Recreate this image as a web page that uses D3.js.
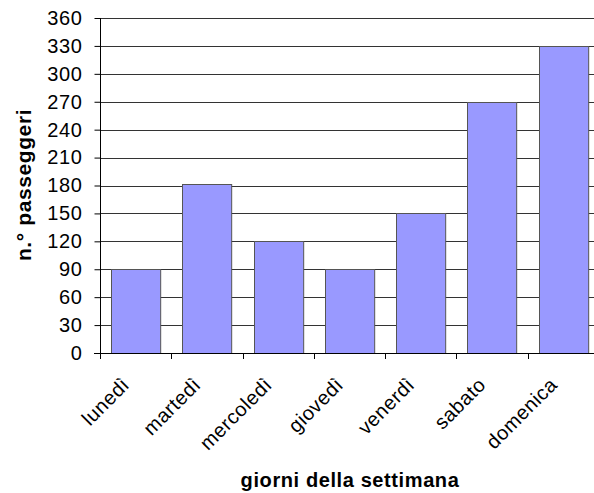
<!DOCTYPE html>
<html><head><meta charset="utf-8">
<script src="https://cdn.jsdelivr.net/npm/d3@7"></script>
<style>body{margin:0;background:#fff}svg{display:block}text{font-family:"Liberation Sans",Arial,sans-serif}</style>
</head><body>
<script>
const categories = ["lunedì","martedì","mercoledì","giovedì","venerdì","sabato","domenica"];
const values = [90, 182, 120, 90, 150, 270, 330];
const yTicks = [0,30,60,90,120,150,180,210,240,270,300,330,360];

const W = 594, H = 493;
const svg = d3.select("body").append("svg").attr("width", W).attr("height", H);
const x0 = 100, x1 = 599, yTop = 18, yBot = 353;
const x = d3.scaleBand().domain(categories).range([x0, x1]).paddingInner(0.31).paddingOuter(0.155);
const xc = d3.scaleBand().domain(categories).range([x0, x1]);
const y = d3.scaleLinear().domain([0, 360]).range([yBot, yTop]);

// gridlines
svg.append("g").selectAll("line").data(yTicks.filter(d => d > 0)).join("line")
  .attr("x1", x0).attr("x2", W).attr("y1", d => Math.round(y(d)) + 0.5).attr("y2", d => Math.round(y(d)) + 0.5)
  .attr("stroke", "#333").attr("stroke-width", 1);

// bars
svg.append("g").selectAll("rect").data(values).join("rect")
  .attr("x", (d, i) => Math.round(x(categories[i])) + 0.5)
  .attr("y", d => Math.round(y(d)) + 0.5)
  .attr("width", x.bandwidth())
  .attr("height", d => Math.round(yBot) - Math.round(y(d)))
  .attr("fill", "#9999FF").attr("stroke", "#555").attr("stroke-width", 1);

// y axis
const ya = svg.append("g").attr("transform", `translate(${x0 + 0.5},0)`)
  .call(d3.axisLeft(y).tickValues(yTicks).tickSize(6).tickPadding(12));
ya.select(".domain").attr("stroke", "#000").attr("d", `M0,${yBot}V${yTop}`);
ya.selectAll(".tick line").attr("stroke", "#000");
ya.selectAll(".tick text").attr("font-size", 20).attr("letter-spacing", 0.6).attr("fill", "#000")
  .attr("font-family", '"Liberation Sans",Arial,sans-serif');

// x axis
const xa = svg.append("g").attr("transform", `translate(0,${yBot + 0.5})`)
  .call(d3.axisBottom(xc).tickSize(0).tickFormat(""));
xa.select(".domain").attr("stroke", "#000").attr("d", `M${x0 - 6},0H${W}`);
xa.selectAll(".tick").remove();
svg.append("g").selectAll("line").data(categories.concat(["__end"])).join("line")
  .attr("x1", (d, i) => Math.round(x0 + i * xc.step()) + 0.5)
  .attr("x2", (d, i) => Math.round(x0 + i * xc.step()) + 0.5)
  .attr("y1", yBot).attr("y2", yBot + 6).attr("stroke", "#000");

svg.append("g").selectAll("text").data(categories).join("text")
  .attr("transform", d => `translate(${xc(d) + xc.bandwidth() / 2 - 5},${yBot + 33}) rotate(-45)`)
  .attr("text-anchor", "end").attr("font-size", 20).attr("letter-spacing", 0.5).attr("fill", "#000")
  .text(d => d);

// titles
svg.append("text").attr("x", 350).attr("y", 487).attr("text-anchor", "middle")
  .attr("font-size", 20).attr("letter-spacing", 0.6).attr("font-weight", "bold").text("giorni della settimana");
svg.append("text").attr("transform", "translate(31,185) rotate(-90)").attr("text-anchor", "middle")
  .attr("font-size", 21).attr("letter-spacing", 0.6).attr("font-weight", "bold").text("n.° passeggeri");
</script>
</body></html>
